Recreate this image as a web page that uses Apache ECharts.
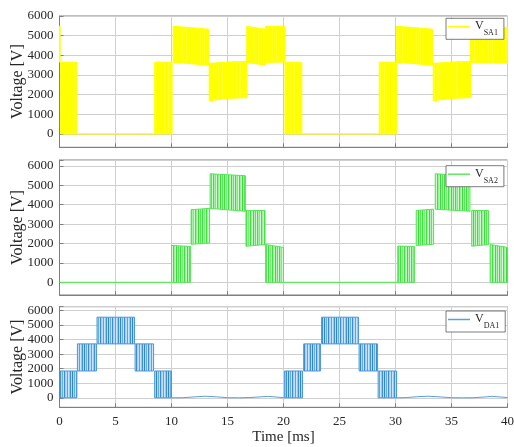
<!DOCTYPE html>
<html>
<head>
<meta charset="utf-8">
<script src="https://cdn.jsdelivr.net/npm/echarts@6/dist/echarts.min.js"></script>
<style>
  html, body { margin: 0; padding: 0; background: #ffffff; }
  #chart { width: 514px; height: 447px; }
</style>
</head>
<body>
<div id="chart"></div>
<script>
// ---- data (time in ms, voltage in V) ----
const timeTicks = [0, 5, 10, 15, 20, 25, 30, 35, 40];
const voltageTicks = [0, 1000, 2000, 3000, 4000, 5000, 6000];

// Switching blocks: [tStart, tEnd, lowAtStart, highAtStart, lowAtEnd, highAtEnd]
const vSA1Blocks = [
  [0.00, 0.06, 3650, 5480, 3650, 5480],
  [0.10, 1.55, 0, 3650, 0, 3650],
  [8.50, 10.05, 0, 3650, 0, 3650],
  [10.15, 13.30, 3650, 5480, 3500, 5330],
  [13.37, 15.00, 1690, 3590, 1810, 3650],
  [15.00, 16.72, 1810, 3660, 1845, 3680],
  [16.72, 18.40, 3640, 5470, 3500, 5330],
  [18.40, 20.13, 3640, 5480, 3660, 5480],
  [20.13, 21.63, 0, 3650, 0, 3650],
  [28.55, 30.10, 0, 3650, 0, 3650],
  [30.10, 33.30, 3650, 5480, 3500, 5330],
  [33.37, 35.07, 1690, 3590, 1810, 3650],
  [35.07, 36.70, 1810, 3660, 1845, 3680],
  [36.70, 40.00, 3650, 5470, 3600, 5420]
];
const vSA1Trace = [[1.55, 0], [8.50, 0], [8.5, null], [21.63, 0], [28.55, 0]];

const vSA2Blocks = [
  [10.00, 11.70, 0, 1900, 0, 1850],
  [11.75, 13.40, 1960, 3740, 2030, 3810],
  [13.45, 16.60, 3810, 5590, 3660, 5490],
  [16.65, 18.35, 1860, 3690, 1950, 3700],
  [18.40, 20.00, 0, 1950, 0, 1800],
  [30.20, 31.70, 0, 1870, 0, 1850],
  [31.85, 33.40, 1900, 3700, 1960, 3770],
  [33.55, 36.65, 3770, 5590, 3660, 5490],
  [36.80, 38.30, 1860, 3700, 1950, 3700],
  [38.45, 40.00, 0, 1950, 0, 1800]
];
const vSA2Trace = [[0, 0], [10.0, 0], [10.0, null], [20.0, 0], [30.2, 0]];

const vDA1Blocks = [
  [0.05, 1.55, 0, 1840, 0, 1840],
  [1.60, 3.30, 1840, 3700, 1840, 3700],
  [3.35, 6.70, 3700, 5530, 3700, 5530],
  [6.75, 8.40, 1840, 3700, 1840, 3700],
  [8.50, 10.00, 0, 1840, 0, 1840],
  [20.10, 21.70, 0, 1840, 0, 1840],
  [21.80, 23.30, 1840, 3700, 1840, 3700],
  [23.40, 26.70, 3700, 5530, 3700, 5530],
  [26.75, 28.40, 1840, 3700, 1840, 3700],
  [28.45, 30.10, 0, 1840, 0, 1840]
];
const vDA1Trace = [
  [10.0, 0], [11.0, 10], [12.0, 60], [13.0, 110], [14.0, 70], [15.0, 10], [16.0, 0],
  [17.0, 20], [18.0, 70], [18.6, 100], [19.3, 60], [20.1, 0], [20.1, null],
  [30.1, 0], [31.0, 20], [32.0, 80], [33.0, 110], [34.0, 60], [35.0, 10], [36.0, 0],
  [37.0, 10], [38.0, 60], [38.6, 100], [39.3, 60], [40.0, 20]
];

// ---- styling helpers ----
const FONT = 'Liberation Serif';
const TEXT = '#262626';
const AXIS = '#7f7f7f';
const GRID = '#cfcfcf';

// Vertical-stripe fill used for the densely switched intervals
function stripes(cols) {
  const c = document.createElement('canvas');
  c.width = cols.length; c.height = 4;
  const ctx = c.getContext('2d');
  cols.forEach((col, i) => { ctx.fillStyle = col; ctx.fillRect(i, 0, 1, 4); });
  return { image: c, repeat: 'repeat' };
}
const yellowFill = stripes(['#ffff00', '#ffff00', '#ffff20', '#ffff00', '#ffff00', '#ffff00', '#ffff30', '#ffff00', '#ffff00']);
const greenFill = stripes(['#33e033', '#b8f2b8', '#55e855', '#cff7cf', '#3ee23e', '#a8efa8', '#7aec7a', '#d4f8d4', '#3ee23e', '#a0eda0', '#c8f6c8']);
const blueFill = stripes(['#2f86cf', '#b4d6f0', '#6aaee0', '#c8e2f5', '#3a8dd3', '#a9cfee', '#c0ddf3', '#5aa3dc', '#cde5f6', '#9cc8ea', '#3f90d4', '#bcdaf2']);

function blockRenderer(fill, edge) {
  return function (params, api) {
    const t0 = api.value(0), t1 = api.value(1);
    const a = api.coord([t0, api.value(2)]);
    const b = api.coord([t0, api.value(3)]);
    const c = api.coord([t1, api.value(5)]);
    const d = api.coord([t1, api.value(4)]);
    const ls = { stroke: edge, lineWidth: 1, fill: null };
    return {
      type: 'group',
      children: [
        { type: 'polygon', shape: { points: [a, b, c, d] }, style: { fill: fill } },
        { type: 'polyline', shape: { points: [b, c] }, style: ls },
        { type: 'polyline', shape: { points: [a, d] }, style: ls },
        { type: 'polyline', shape: { points: [a, b] }, style: ls },
        { type: 'polyline', shape: { points: [d, c] }, style: ls }
      ]
    };
  };
}

const grids = [
  { left: 59.5, top: 16, width: 448, height: 131.3 },
  { left: 59.5, top: 160, width: 448, height: 135 },
  { left: 59.5, top: 306.7, width: 448, height: 100.6 }
].map(g => Object.assign({
  show: true, borderColor: AXIS, borderWidth: 1, backgroundColor: 'transparent',
  containLabel: false, outerBoundsMode: 'none'
}, g));

const yRanges = [[-680, 6000], [-650, 6300], [-650, 6250]];

const xAxes = grids.map((g, i) => ({
  type: 'value', gridIndex: i, min: 0, max: 40, interval: 5,
  axisLine: { show: true, onZero: false, lineStyle: { color: AXIS } },
  axisTick: { show: true, inside: true, length: 4, lineStyle: { color: AXIS } },
  axisLabel: { show: i === 2, margin: 8, fontFamily: FONT, fontSize: 13, color: TEXT },
  splitLine: { show: true, lineStyle: { color: GRID, width: 1 } },
  name: i === 2 ? 'Time [ms]' : '',
  nameLocation: 'middle', nameGap: 22, nameMoveOverlap: false,
  nameTextStyle: { fontFamily: FONT, fontSize: 15, color: TEXT }
}));

const yAxes = yRanges.map((r, i) => ({
  type: 'value', gridIndex: i, min: r[0], max: r[1],
  splitNumber: 6, minInterval: 1000, maxInterval: 1000,
  axisLine: { show: true, lineStyle: { color: AXIS } },
  axisTick: { show: true, inside: true, length: 4, lineStyle: { color: AXIS } },
  axisLabel: {
    margin: 6, fontFamily: FONT, fontSize: 13, color: TEXT,
    formatter: v => (voltageTicks.indexOf(v) >= 0 ? String(v) : '')
  },
  splitLine: { show: true, lineStyle: { color: GRID, width: 1 } },
  name: 'Voltage [V]', nameLocation: 'middle', nameGap: 34, nameMoveOverlap: false,
  nameTextStyle: { fontFamily: FONT, fontSize: 16, color: TEXT }
}));

const blocks = [vSA1Blocks, vSA2Blocks, vDA1Blocks];
const traces = [vSA1Trace, vSA2Trace, vDA1Trace];
const names = ['VSA1', 'VSA2', 'VDA1'];
const subs = ['SA1', 'SA2', 'DA1'];
const lineColors = ['#ffff00', '#5ee85e', '#5a9fd9'];
const traceWidths = [1.2, 1.2, 1];
const fills = [yellowFill, greenFill, blueFill];
const edges = ['#ffff00', '#55e655', '#4a98d6'];

const series = [];
blocks.forEach((data, i) => {
  series.push({
    type: 'custom', xAxisIndex: i, yAxisIndex: i,
    renderItem: blockRenderer(fills[i], edges[i]),
    encode: { x: [0, 1], y: [2, 3, 4, 5] },
    data: data, silent: true
  });
  series.push({
    type: 'line', name: names[i], xAxisIndex: i, yAxisIndex: i,
    data: traces[i], showSymbol: false, symbol: 'none', connectNulls: false,
    color: lineColors[i], lineStyle: { color: lineColors[i], width: traceWidths[i] }, silent: true
  });
});

const legendTops = [18.3, 165.7, 311];
const legends = names.map((n, i) => ({
  data: [{ name: n, icon: 'rect' }],
  left: 446, top: legendTops[i],
  orient: 'horizontal', selectedMode: false,
  itemWidth: 22, itemHeight: 1.5, itemGap: 0,
  padding: [2, 6, 2, 2],
  backgroundColor: '#ffffff', borderColor: '#5a5a5a', borderWidth: 0.8,
  formatter: () => '{v|V}{s|' + subs[i] + '}',
  textStyle: {
    color: TEXT, fontFamily: FONT,
    rich: {
      v: { fontSize: 12, lineHeight: 13, verticalAlign: 'top', fontFamily: FONT, color: TEXT },
      s: { fontSize: 8, lineHeight: 9, padding: [9, 0, 0, 0], verticalAlign: 'top', fontFamily: FONT, color: TEXT }
    }
  }
}));

const chart = echarts.init(document.getElementById('chart'), null, { renderer: 'canvas' });
chart.setOption({
  animation: false,
  backgroundColor: '#ffffff',
  grid: grids,
  xAxis: xAxes,
  yAxis: yAxes,
  legend: legends,
  series: series
});
</script>
</body>
</html>
